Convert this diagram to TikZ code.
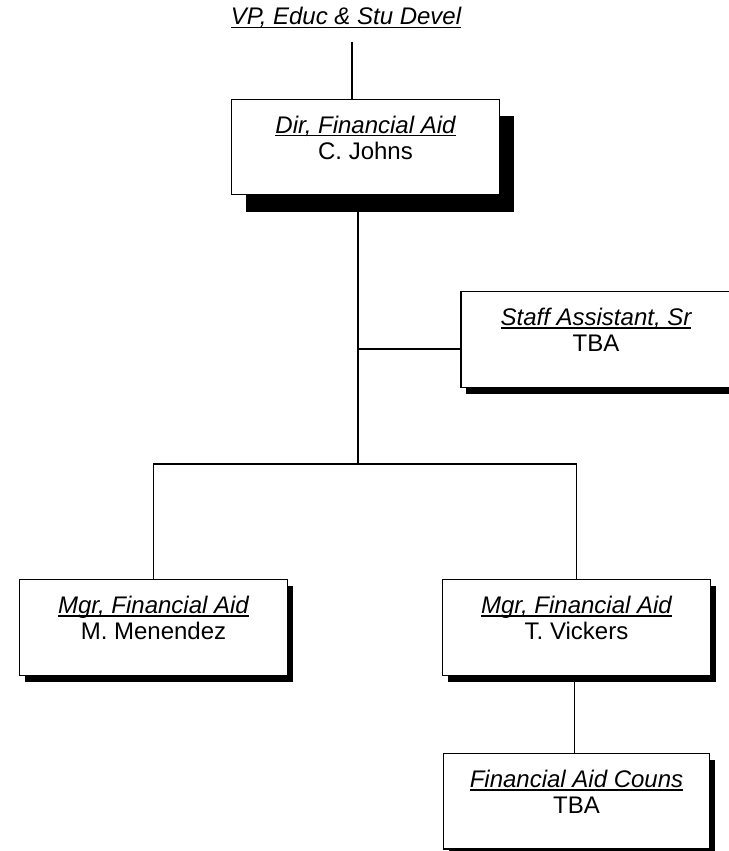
\documentclass[tikz,border=0pt]{standalone}
\usepackage{fontspec}
\setmainfont{Liberation Sans}
\usepackage{tikz}
\usetikzlibrary{positioning, backgrounds, shadows}

\newcommand{\posttitle}[1]{\setbox0\hbox{\itshape #1}\rlap{\rule[-3pt]{\wd0}{1.4pt}}\box0}

\begin{document}
\begin{tikzpicture}[x=1pt, y=-1pt,
        orgbox/.style={draw, line width=1.3pt, fill=white, align=center, inner sep=0pt,
            minimum width=268pt, text height=60pt, text depth=35.5pt,
            font=\fontsize{24}{26}\selectfont},
        bigshadow/.style={drop shadow={shadow xshift=14pt, shadow yshift=-17pt, fill=black, opacity=1}},
        smallshadow/.style={drop shadow={shadow xshift=5pt, shadow yshift=-6.5pt, fill=black, opacity=1}},
        link/.style={line width=1.3pt}]
                \useasboundingbox (0,0) rectangle (728,851);

                \node[anchor=base, inner sep=0pt, font=\fontsize{24}{26}\selectfont] (vp) at (346,25)
                    {\posttitle{VP, Educ \& Stu Devel}};

                \node[orgbox, bigshadow] (dir) at (365.5,147) {\posttitle{Dir, Financial Aid}\\C. Johns};
                \node[orgbox, smallshadow, minimum width=270pt] (staff) at (596,339.5) {\posttitle{Staff Assistant, Sr}\\TBA};
                \node[orgbox, smallshadow] (mgrL) at (153.5,627.5) {\posttitle{Mgr, Financial Aid}\\M. Menendez};
                \node[orgbox, smallshadow] (mgrR) at (576.5,627.5) {\posttitle{Mgr, Financial Aid}\\T. Vickers};
                \node[orgbox, smallshadow, minimum width=266pt, below=77pt of mgrR] (couns) {\posttitle{Financial Aid Couns}\\TBA};

                \begin{scope}[on background layer]
                    \coordinate (vpfoot) at (352,42);
                    \coordinate (trunk) at (358,464);
                    \coordinate (staffjoin) at ([yshift=-9.5pt]staff.west);
                    \draw[link] (vpfoot) -- (vpfoot |- dir.north);
                    \draw[link] (trunk |- dir.south) -- (trunk);
                    \draw[link] (trunk |- staffjoin) -- (staffjoin);
                    \draw[link] (mgrL.north) |- (trunk) -| (mgrR.north);
                    \draw[link] ([xshift=-2pt]mgrR.south) -- ([xshift=-2pt]mgrR.south |- couns.north);
                \end{scope}
            \end{tikzpicture}
\end{document}
